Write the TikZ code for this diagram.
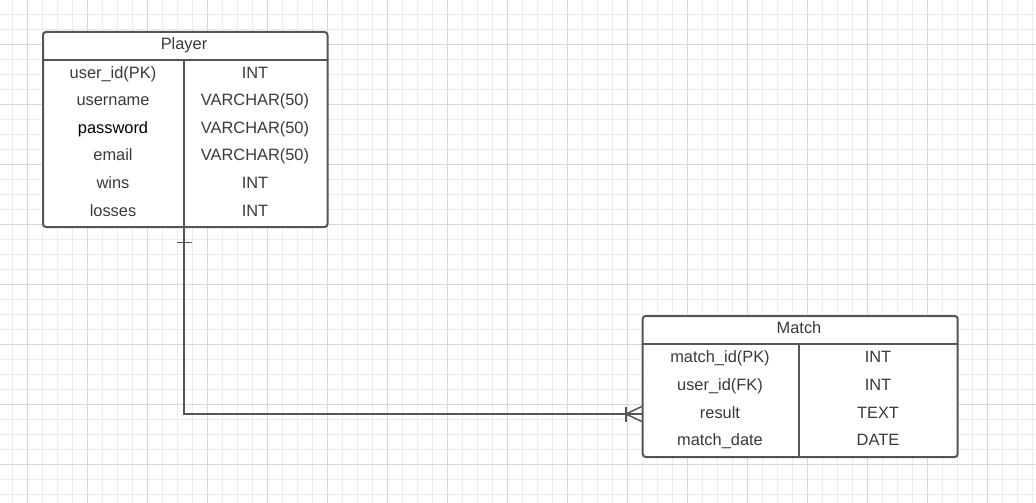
\documentclass[tikz,border=0pt]{standalone}
\usepackage{fontspec}
\setmainfont{Liberation Sans}
\begin{document}
\definecolor{gridminor}{HTML}{ECECEC}
\definecolor{gridmajor}{HTML}{D8D8D8}
\definecolor{edge}{HTML}{555555}
\definecolor{ink}{HTML}{3A3A3A}
\begin{tikzpicture}[x=1pt,y=-1pt,
  tablebox/.style={draw=edge, line width=2pt, rounded corners=3pt, fill=white, anchor=north west, inner sep=0pt},
  rule/.style={draw=edge, line width=2pt},
  cell/.style={anchor=base, inner sep=0pt, text=ink, font=\fontsize{16.4}{19}\selectfont},
  conn/.style={draw=edge, line width=1.5pt}]
  % canvas and grid
  \path[fill=white] (0,0) rectangle (1036,503);
  \useasboundingbox (0,0) rectangle (1036,503);
  \foreach \x in {0,...,68} {\draw[gridminor, line width=0.8pt] ({12+15*\x},0) -- ({12+15*\x},503);}
  \foreach \y in {0,...,33} {\draw[gridminor, line width=0.8pt] (0,{14+15*\y}) -- (1036,{14+15*\y});}
  \foreach \x in {0,...,16} {\draw[gridmajor, line width=0.8pt] ({27+60*\x},0) -- ({27+60*\x},503);}
  \foreach \y in {0,...,7} {\draw[gridmajor, line width=0.8pt] (0,{44+60*\y}) -- (1036,{44+60*\y});}

  % Player table
  \node[tablebox, minimum width=284.5pt, minimum height=195pt] (player) at (42,31) {};
  \coordinate (phl) at (42,60);
  \coordinate (phr) at (326.5,60);
  \coordinate (pdt) at (184,60);
  \coordinate (pdb) at (184,226);
  \draw[rule] (phl) -- (phr);
  \draw[rule] (pdt) -- (pdb);
  \node[cell] (ptitle) at (184,49) {Player};
  \foreach \n/\a/\b [count=\i] in {pa/user\_id(PK)/INT, pb/username/VARCHAR(50), pc/password/VARCHAR(50), pd/email/VARCHAR(50), pe/wins/INT, pf/losses/INT} {
    \node[cell] (\n l) at (113,{60+27.6*(\i-0.5)+4.2}) {\a};
    \node[cell] (\n r) at (255,{60+27.6*(\i-0.5)+4.2}) {\b};
  }
  \node[cell, text=black, fill=white] at (pcl.base) {password};

  % Match table
  \node[tablebox, minimum width=315pt, minimum height=141pt] (match) at (641.7,315) {};
  \coordinate (mhl) at (641.7,344.3);
  \coordinate (mhr) at (956.7,344.3);
  \coordinate (mdt) at (799,344.3);
  \coordinate (mdb) at (799,456);
  \draw[rule] (mhl) -- (mhr);
  \draw[rule] (mdt) -- (mdb);
  \node[cell] (mtitle) at (799,333.5) {Match};
  \foreach \n/\a/\b [count=\i] in {ma/match\_id(PK)/INT, mb/user\_id(FK)/INT, mc/result/TEXT, md/match\_date/DATE} {
    \node[cell] (\n l) at (720,{344.3+27.85*(\i-0.5)+4.2}) {\a};
    \node[cell] (\n r) at (878,{344.3+27.85*(\i-0.5)+4.2}) {\b};
  }

  % one-to-many relationship
  \coordinate (rel) at (641.7,414);
  \draw[conn] (pdb) |- (rel);
  % "one" bar at the Player end
  \coordinate (obl) at (177,242.5);
  \coordinate (obr) at (192,242.5);
  \draw[conn] (obl) -- (obr);
  % crow's foot at the Match end
  \coordinate (cf) at (626,414);
  \coordinate (cfa) at (641.7,406.5);
  \coordinate (cfb) at (641.7,421.5);
  \coordinate (cbt) at (626,406.5);
  \coordinate (cbb) at (626,421.5);
  \draw[conn] (cfa) -- (cf) -- (cfb);
  \draw[conn] (cbt) -- (cbb);
\end{tikzpicture}
\end{document}
